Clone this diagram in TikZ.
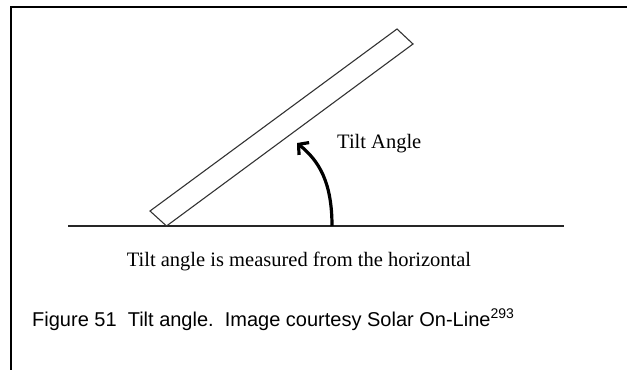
\documentclass[tikz,border=0pt]{standalone}
\usepackage{fontspec}
\setmainfont{Liberation Serif}
\newfontfamily\capfont{Liberation Sans}
\usetikzlibrary{arrows.meta, positioning}
\begin{document}
\begin{tikzpicture}[
  x=1pt, y=-1pt,
  frame/.style={line width=2pt},
  panel/.style={draw=black!80, line width=1.1pt},
  ground/.style={draw=black!85, line width=1.5pt},
  tilt/.style={line width=3.2pt, -{Straight Barb[length=7pt, width=16pt]}},
  lbl/.style={font=\fontsize{20.5}{22}\selectfont, inner sep=0pt},
  caption/.style={font=\capfont\fontsize{20}{22}\selectfont, inner sep=0pt},
]
\useasboundingbox (0,0) rectangle (627,370);
\draw[frame] (627,7) -| (11,370);

\coordinate (gl) at (68,226);
\coordinate (gr) at (564,226);
\draw[ground] (gl) -- (gr);

\coordinate (p1) at (150,211);
\coordinate (p2) at (166.5,226);
\coordinate (p3) at (413,44);
\coordinate (p4) at (397,29);
\draw[panel] (p1) -- (p2) -- (p3) -- (p4) -- cycle;

\coordinate (foot) at (332,226);
\coordinate (tip) at (297,143);
\draw[tilt] (foot) .. controls (332,182) and (319,161) .. (tip);

\node[lbl, anchor=base west] (tiltlbl) at (337,148) {Tilt Angle};
\node[lbl, anchor=base] (note) at (299,266) {Tilt angle is measured from the horizontal};
\node[caption, anchor=base west] (cap) at (32,326)
  {Figure 51\ \ Tilt angle.\ \ Image courtesy Solar On-Line\textsuperscript{293}};
\end{tikzpicture}
\end{document}
